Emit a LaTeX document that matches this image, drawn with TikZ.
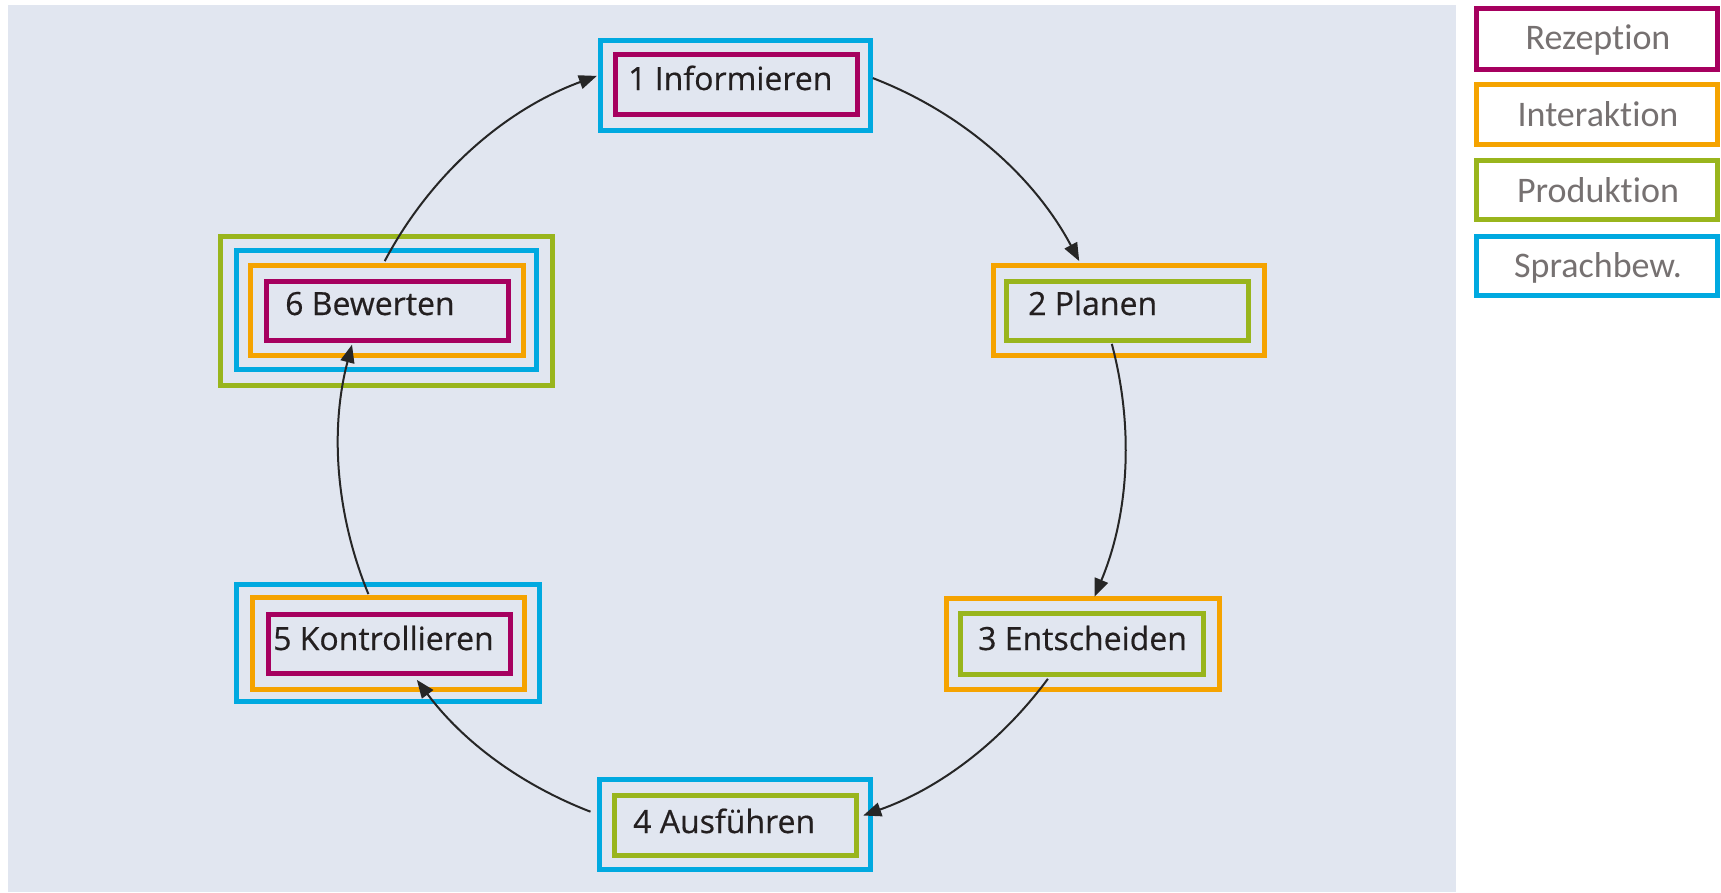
\documentclass[tikz,border=0pt]{standalone}
\usepackage{fontspec}
\setmainfont{Open Sans}
\newfontfamily\lblfont[FakeBold=0.5]{Open Sans}
\newfontfamily\legfont[Ligatures=NoCommon]{Carlito}
\usetikzlibrary{arrows.meta}
\definecolor{bg}{HTML}{E1E6F0}
\definecolor{cmag}{HTML}{A6005F}
\definecolor{corg}{HTML}{F5A300}
\definecolor{cgrn}{HTML}{99B51C}
\definecolor{cblu}{HTML}{00A9E0}
\definecolor{ctxt}{HTML}{231F20}
\definecolor{cleg}{HTML}{767171}
\begin{document}
\begin{tikzpicture}[x=1pt,y=-1pt,
  bx/.style 2 args={draw, line width=5pt, inner sep=0pt, outer sep=0pt,
    minimum width=#1pt, minimum height=#2pt},
  lbl/.style={anchor=base west, inner sep=0pt, text=ctxt,
    font=\lblfont\fontsize{32}{38}\selectfont},
  leg/.style={anchor=base, inner sep=0pt, text=cleg,
    font=\legfont\fontsize{36}{42}\selectfont},
  arr/.style={draw=black!85, line width=2pt, looseness=0.89,
    -{Triangle[length=18pt,width=14pt]}}]
\useasboundingbox (0,0) rectangle (1721,892);
\fill[bg] (8,5) rectangle (1456,892);

% Box 1
\node[bx={270}{90}, cblu] (b1o) at (735,85) {};
\node[bx={242}{60}, cmag] (b1i) at (736,84) {};
\node[lbl] (t1) at (628,90) {1 Informieren};
% Box 2
\node[bx={271}{90}, corg] (b2o) at (1129,310.5) {};
\node[bx={242}{59}, cgrn] (b2i) at (1127.5,311) {};
\node[lbl] (t2) at (1028,315) {2 Planen};
% Box 3
\node[bx={273}{91}, corg] (b3o) at (1083,644) {};
\node[bx={243}{61}, cgrn] (b3i) at (1082,644) {};
\node[lbl] (t3) at (978,650) {3 Entscheiden};
% Box 4
\node[bx={271}{90}, cblu] (b4o) at (735,824.5) {};
\node[bx={242}{60}, cgrn] (b4i) at (735.5,825.5) {};
\node[lbl] (t4) at (633,833) {4 Ausführen};
% Box 5
\node[bx={303}{117}, cblu] (b5a) at (388,643) {};
\node[bx={272}{92}, corg] (b5b) at (388.5,643.5) {};
\node[bx={242}{59}, cmag] (b5c) at (389.5,644) {};
\node[lbl] (t5) at (273,650) {5 Kontrollieren};
% Box 6
\node[bx={332}{149}, cgrn] (b6a) at (386.5,311) {};
\node[bx={300}{119}, cblu] (b6b) at (386.5,310) {};
\node[bx={273}{90}, corg] (b6c) at (387,310.5) {};
\node[bx={242}{59}, cmag] (b6d) at (387.5,311) {};
\node[lbl] (t6) at (285,315) {6 Bewerten};

% connector end points
\coordinate (s1) at (872.8,78.1);   \coordinate (e1) at (1079.2,261.1);
\coordinate (s2) at (1111.8,343.9); \coordinate (e2) at (1094.5,596.7);
\coordinate (s3) at (1047.9,678.8); \coordinate (e3) at (863.2,815.5);
\coordinate (s4) at (590.5,811.7);  \coordinate (e4) at (416.9,679.9);
\coordinate (s5) at (368.4,594.1);  \coordinate (e5) at (352.0,344.6);
\coordinate (s6) at (384.7,261.1);  \coordinate (e6) at (596.9,75.9);

\draw[arr] (s1) to[bend left=20.5] (e1);
\draw[arr] (s2) to[bend left=18.8] (e2);
\draw[arr] (s3) to[bend left=17] (e3);
\draw[arr] (s4) to[bend left=16.1] (e4);
\draw[arr] (s5) to[bend left=18.5] (e5);
\draw[arr] (s6) to[bend left=21] (e6);

% Legend
\node[bx={241}{61}, cmag, fill=white] (l1) at (1597,39) {};
\node[bx={241}{60}, corg, fill=white] (l2) at (1597,114.5) {};
\node[bx={241}{59}, cgrn, fill=white] (l3) at (1597,190) {};
\node[bx={241}{59}, cblu, fill=white] (l4) at (1597,266) {};
\node[leg] (lt1) at (1598,49) {Rezeption};
\node[leg] (lt2) at (1598,126) {Interaktion};
\node[leg] (lt3) at (1598,202) {Produktion};
\node[leg] (lt4) at (1598,277) {Sprachbew.};
\end{tikzpicture}
\end{document}
